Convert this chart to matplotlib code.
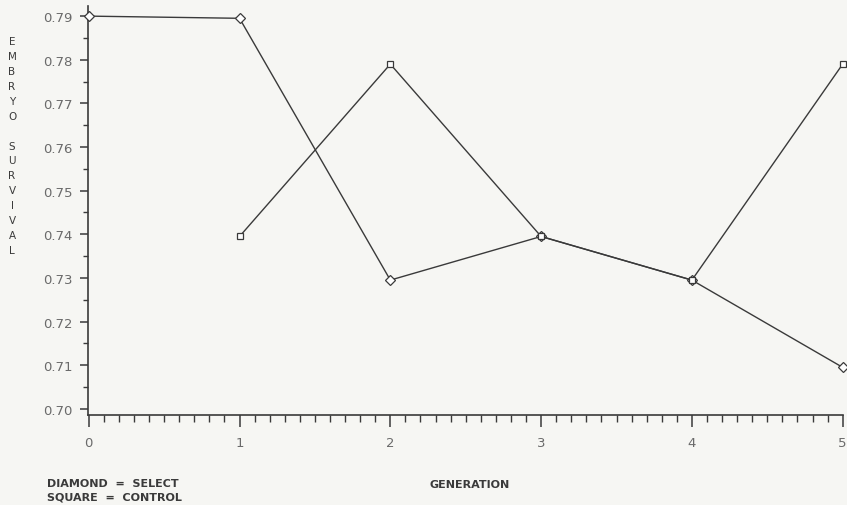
import numpy as np
import matplotlib.pyplot as plt
from matplotlib.ticker import MultipleLocator, FormatStrFormatter

# embryo survival per generation
gen_select = [0, 1, 2, 3, 4, 5]
surv_select = [0.7900, 0.7895, 0.7295, 0.7395, 0.7295, 0.7095]
gen_control = [1, 2, 3, 4, 5]
surv_control = [0.7395, 0.7790, 0.7395, 0.7295, 0.7790]

bg = '#f6f6f3'
ink = '#3a3a3a'
txt = '#6a6a6a'

plt.rcParams['font.family'] = ['DejaVu Sans']

fig = plt.figure(figsize=(8.47, 5.06), dpi=100, facecolor=bg)
ax = fig.add_axes([0.1039, 0.178, 0.891, 0.808], facecolor=bg)

ax.plot(gen_select, surv_select, color=ink, lw=1.0, marker='D', ms=5,
        mfc='white', mec=ink, mew=0.9, clip_on=False, zorder=3)
ax.plot(gen_control, surv_control, color=ink, lw=1.0, marker='s', ms=5,
        mfc='white', mec=ink, mew=0.9, clip_on=False, zorder=3)

ax.set_xlim(-0.005, 5.0)
ax.set_ylim(0.6986, 0.7923)

for s in ['top', 'right']:
    ax.spines[s].set_visible(False)
for s in ['left', 'bottom']:
    ax.spines[s].set_color(ink)
    ax.spines[s].set_linewidth(1.2)

ax.xaxis.set_major_locator(MultipleLocator(1))
ax.xaxis.set_minor_locator(MultipleLocator(0.1))
ax.yaxis.set_major_locator(MultipleLocator(0.01))
ax.yaxis.set_minor_locator(MultipleLocator(0.005))
ax.yaxis.set_major_formatter(FormatStrFormatter('%.2f'))

ax.tick_params(axis='x', which='major', direction='out', length=8.5, width=1.1,
               color=ink, pad=7, labelsize=9.5, labelcolor=txt)
ax.tick_params(axis='x', which='minor', direction='out', length=5, width=1.0,
               color=ink)
ax.tick_params(axis='y', which='major', direction='out', length=6, width=1.1,
               color=ink, pad=5, labelsize=9.5, labelcolor=txt)
ax.tick_params(axis='y', which='minor', direction='out', length=3.5, width=1.0,
               color=ink)

# stacked vertical axis title
fig.text(0.0142, 0.926, '\n'.join('EMBRYO SURVIVAL'), ha='center', va='top',
         fontsize=7.5, color=ink, linespacing=1.61)

fig.text(0.555, 0.041, 'GENERATION', ha='center', va='center',
         fontsize=8, color=ink, fontweight='bold')
fig.text(0.055, 0.043, 'DIAMOND  =  SELECT', ha='left', va='center',
         fontsize=8, color=ink, fontweight='bold')
fig.text(0.055, 0.017, 'SQUARE  =  CONTROL', ha='left', va='center',
         fontsize=8, color=ink, fontweight='bold')

fig.savefig('out.png', dpi=100, facecolor=bg)
